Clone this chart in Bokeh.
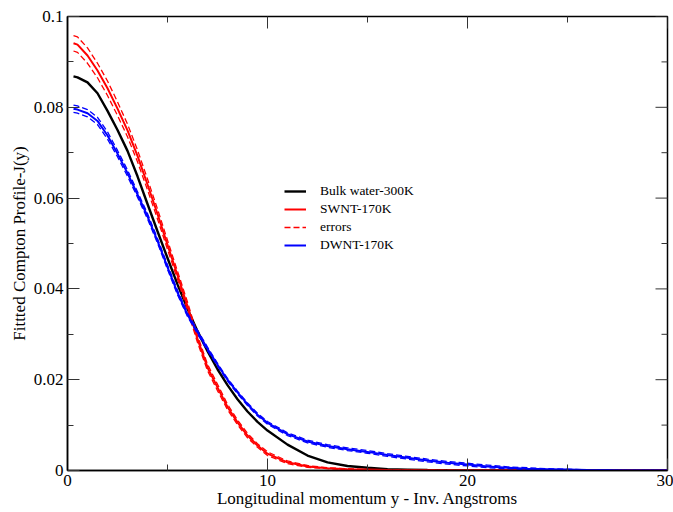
from bokeh.plotting import figure
from bokeh.models import Range1d, FixedTicker, Legend, LegendItem
from bokeh.embed import file_html
from bokeh.resources import INLINE
import math

# ---------------- data ----------------
x = [0.3, 0.5, 1, 1.5, 2, 2.5, 3, 3.5, 4, 4.5, 5, 5.5, 6, 6.5, 7, 7.5, 8, 8.5, 9, 9.5,
     10, 11, 12, 13, 14, 15, 16, 17, 18, 19, 20, 21, 22, 23, 24, 25, 26, 27, 28, 29, 30]

bulk_water_300K = [0.0868, 0.0866, 0.0855, 0.0831, 0.0792, 0.0750, 0.0704, 0.0648, 0.0587, 0.0527,
                   0.0468, 0.0410, 0.0356, 0.0307, 0.0263, 0.0223, 0.0188, 0.0157, 0.0130, 0.0107,
                   0.0088, 0.0057, 0.0033, 0.0018, 0.0010, 0.0006, 0.0003, 0.0002, 0.0001, 0.00005,
                   0.00003, 0.0, 0.0, 0.0, 0.0, 0.0, 0.0, 0.0, 0.0, 0.0, 0.0]

swnt_170K = [0.0941, 0.0938, 0.0914, 0.0881, 0.0842, 0.0797, 0.0749, 0.0693, 0.0630, 0.0565,
             0.0497, 0.0430, 0.0362, 0.0290, 0.0227, 0.0183, 0.0140, 0.0106, 0.0077, 0.0055,
             0.0037, 0.0018, 0.0009, 0.0005, 0.0003, 0.0002, 0.0001, 0.00006, 0.00003, 0.0,
             0.0, 0.0, 0.0, 0.0, 0.0, 0.0, 0.0, 0.0, 0.0, 0.0, 0.0]

swnt_err = [0.0017, 0.0017, 0.0017, 0.0016, 0.0016, 0.0015, 0.0014, 0.0013, 0.0012, 0.0011,
            0.0010, 0.0009, 0.0009, 0.0008, 0.0007, 0.0007, 0.0006, 0.0005, 0.0005, 0.0004,
            0.0004, 0.0003, 0.0002, 0.0001, 0.0001, 0.0, 0.0, 0.0, 0.0, 0.0,
            0.0, 0.0, 0.0, 0.0, 0.0, 0.0, 0.0, 0.0, 0.0, 0.0, 0.0]

dwnt_170K = [0.0797, 0.0795, 0.0787, 0.0770, 0.0738, 0.0698, 0.0655, 0.0608, 0.0560, 0.0506,
             0.0448, 0.0392, 0.0343, 0.0305, 0.0268, 0.0233, 0.0200, 0.0172, 0.0146, 0.0123,
             0.0105, 0.0080, 0.0064, 0.0054, 0.0047, 0.0041, 0.0034, 0.0028, 0.0022, 0.0017,
             0.0013, 0.0009, 0.0006, 0.0004, 0.0003, 0.0002, 0.0001, 0.00005, 0.0, 0.0, 0.0]

dwnt_err = [0.0008, 0.0008, 0.0008, 0.0008, 0.0008, 0.0007, 0.0007, 0.0006, 0.0006, 0.0005,
            0.0005, 0.0005, 0.0004, 0.0004, 0.0004, 0.0003, 0.0003, 0.0003, 0.0003, 0.0003,
            0.0003, 0.0003, 0.0003, 0.0003, 0.0003, 0.0003, 0.0003, 0.0003, 0.0003, 0.0003,
            0.0003, 0.0003, 0.0002, 0.0002, 0.0001, 0.0001, 0.0, 0.0, 0.0, 0.0, 0.0]

x_ticks = [0, 10, 20, 30]
x_minor = [5, 15, 25]
y_ticks = [0, 0.02, 0.04, 0.06, 0.08, 0.1]
y_tick_labels = ["0", "0.02", "0.04", "0.06", "0.08", "0.1"]
y_minor = [0.01, 0.03, 0.05, 0.07, 0.09]

labels = ["Bulk water-300K", "SWNT-170K", "errors", "DWNT-170K"]
x_title = "Longitudinal momentum y - Inv. Angstroms"
y_title = "Fittted Compton Profile-J(y)"

X_MIN, X_MAX = 0, 30
Y_MIN, Y_MAX = 0, 0.1

# ---------------- figure ----------------
FONT = "Liberation Serif"
TICK_COLOR = "#333333"
MAJOR_LEN = 12
MINOR_LEN = 6

p = figure(width=673, height=512, output_backend="svg", toolbar_location=None,
           x_range=Range1d(X_MIN, X_MAX), y_range=Range1d(Y_MIN, Y_MAX),
           min_border_left=67, min_border_right=6, min_border_top=16, min_border_bottom=42)
p.background_fill_color = "white"
p.border_fill_color = "white"
p.xgrid.visible = False
p.ygrid.visible = False
p.outline_line_color = "black"
p.outline_line_width = 1.5

p.xaxis.ticker = FixedTicker(ticks=x_ticks, minor_ticks=x_minor)
p.yaxis.ticker = FixedTicker(ticks=y_ticks, minor_ticks=y_minor)
for ax in (p.xaxis[0], p.yaxis[0]):
    ax.axis_line_color = "black"
    ax.axis_line_width = 1.5
    ax.major_tick_in = MAJOR_LEN
    ax.major_tick_out = 0
    ax.minor_tick_in = MINOR_LEN
    ax.minor_tick_out = 0
    ax.major_tick_line_color = TICK_COLOR
    ax.minor_tick_line_color = TICK_COLOR
    ax.major_label_text_font = FONT
    ax.major_label_text_font_size = "17px"
    ax.major_label_text_color = "black"
    ax.major_label_standoff = 4
    ax.axis_label_text_font = FONT
    ax.axis_label_text_font_size = "17px"
    ax.axis_label_text_font_style = "normal"
    ax.axis_label_text_color = "black"
p.xaxis.axis_label = x_title
p.yaxis.axis_label = y_title
p.xaxis.axis_label_standoff = 0
p.yaxis.axis_label_standoff = 2
p.yaxis.major_label_overrides = {t: s for t, s in zip(y_ticks, y_tick_labels)}

# mirrored inward ticks on the top and right frame edges (dash markers centred on
# the frame edge; the half outside the frame is clipped away)
p.scatter(x_ticks, [Y_MAX] * len(x_ticks), marker="dash", size=2 * MAJOR_LEN,
          angle=math.pi / 2, line_color=TICK_COLOR, line_width=1)
p.scatter(x_minor, [Y_MAX] * len(x_minor), marker="dash", size=2 * MINOR_LEN,
          angle=math.pi / 2, line_color=TICK_COLOR, line_width=1)
p.scatter([X_MAX] * len(y_ticks), y_ticks, marker="dash", size=2 * MAJOR_LEN,
          line_color=TICK_COLOR, line_width=1)
p.scatter([X_MAX] * len(y_minor), y_minor, marker="dash", size=2 * MINOR_LEN,
          line_color=TICK_COLOR, line_width=1)

# ---------------- curves ----------------
swnt_hi = [v + e for v, e in zip(swnt_170K, swnt_err)]
swnt_lo = [max(v - e, 0) for v, e in zip(swnt_170K, swnt_err)]
dwnt_hi = [v + e for v, e in zip(dwnt_170K, dwnt_err)]
dwnt_lo = [max(v - e, 0) for v, e in zip(dwnt_170K, dwnt_err)]

r_bulk = p.line(x, bulk_water_300K, line_color="black", line_width=2.4)
r_sw = p.line(x, swnt_170K, line_color="#ff0000", line_width=2)
r_sw_hi = p.line(x, swnt_hi, line_color="#ff0000", line_width=1.3, line_dash="6 3")
p.line(x, swnt_lo, line_color="#ff0000", line_width=1.3, line_dash="6 3")
r_dw = p.line(x, dwnt_170K, line_color="#0000ff", line_width=2)
p.line(x, dwnt_hi, line_color="#0000ff", line_width=1.3, line_dash="6 3")
p.line(x, dwnt_lo, line_color="#0000ff", line_width=1.3, line_dash="6 3")

legend = Legend(items=[LegendItem(label=labels[0], renderers=[r_bulk]),
                       LegendItem(label=labels[1], renderers=[r_sw]),
                       LegendItem(label=labels[2], renderers=[r_sw_hi]),
                       LegendItem(label=labels[3], renderers=[r_dw])],
                location=(217, 216), margin=0, padding=0, spacing=0,
                label_text_font=FONT, label_text_font_size="13.5px",
                label_text_color="black",
                glyph_width=22, glyph_height=18, label_height=18,
                label_standoff=14,
                border_line_alpha=0, background_fill_alpha=0)
p.add_layout(legend, "center")

open("out.html", "w").write(file_html(p, INLINE))
